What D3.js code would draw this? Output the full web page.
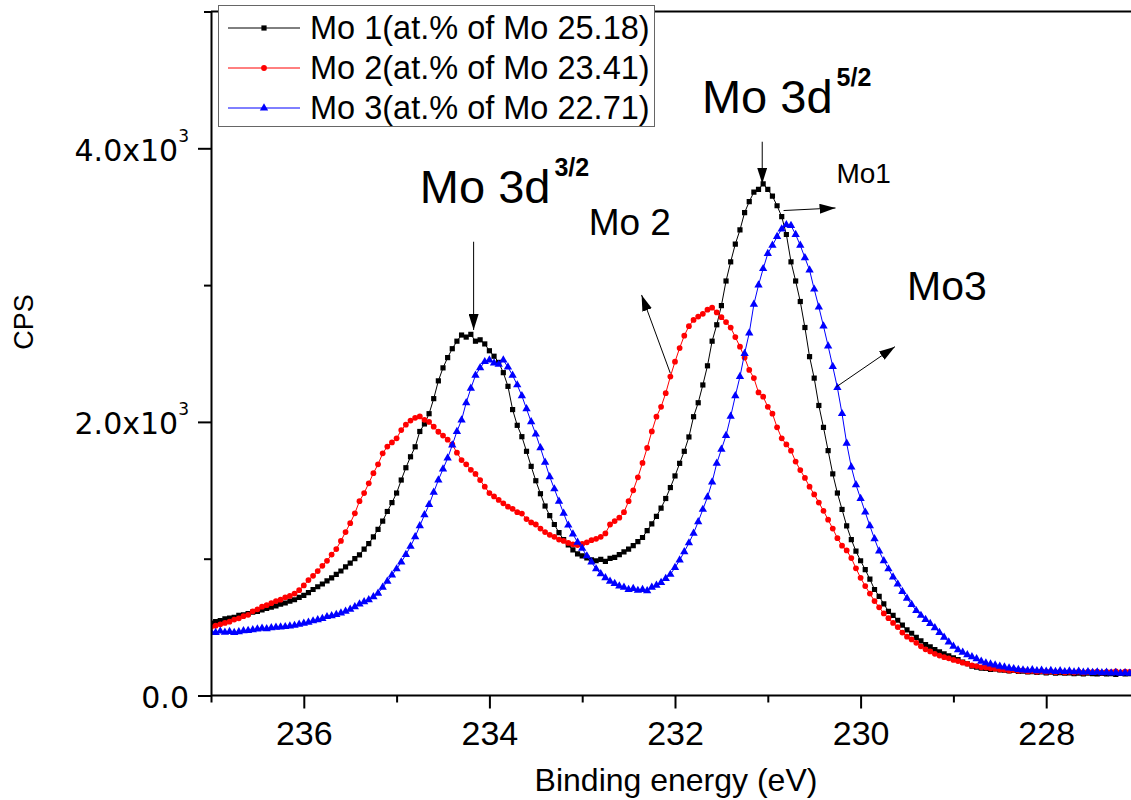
<!DOCTYPE html>
<html>
<head>
<meta charset="utf-8">
<script src="https://cdn.jsdelivr.net/npm/d3@7"></script>
<style>
  body { margin: 0; background: #fff; }
  svg { display: block; font-family: "Liberation Sans", Arial, sans-serif; }
</style>
</head>
<body>
<div id="chart"></div>
<script>
// binding energy grid: 237.00 eV down to 227.10 eV, 0.05 eV per channel
var energyStart = 237.0, energyStep = 0.05;

// CPS, 10 channels (0.5 eV) per row
var mo1 = [
  530,540,548,560,566,572,585,590,598,610,
  615,625,636,645,655,668,676,690,700,718,
  732,752,775,795,815,838,860,885,910,940,
  968,1000,1028,1070,1110,1160,1215,1275,1345,1410,
  1480,1575,1665,1745,1818,1930,1985,2060,2170,2300,
  2395,2470,2535,2590,2635,2620,2640,2590,2600,2570,
  2520,2480,2435,2360,2260,2090,1975,1892,1785,1675,
  1570,1475,1385,1315,1250,1190,1140,1100,1065,1035,
  1020,1005,992,985,995,980,1003,1010,1030,1050,
  1070,1095,1125,1155,1205,1255,1310,1370,1440,1520,
  1605,1697,1785,1890,2038,2140,2270,2410,2590,2710,
  2850,3030,3170,3300,3403,3530,3610,3680,3700,3740,
  3700,3650,3580,3500,3370,3170,3030,2880,2690,2477,
  2320,2120,1960,1790,1620,1480,1360,1240,1140,1055,
  985,920,850,775,725,670,615,585,550,515,
  479,455,425,400,372,355,335,320,305,290,
  275,262,245,232,215,208,200,198,190,195,
  188,185,180,184,176,178,172,175,168,172,
  166,170,164,167,163,166,160,164,158,163,
  160,157,162,158,160,155,161,158,160
];
var mo2 = [
  500,510,520,530,540,555,564,580,590,615,
  630,649,660,675,690,700,718,728,745,770,
  805,844,875,910,948,985,1030,1070,1130,1195,
  1260,1332,1420,1480,1551,1625,1690,1770,1820,1850,
  1880,1940,1980,2010,2030,2040,2015,2000,1965,1928,
  1900,1870,1835,1775,1721,1690,1650,1620,1575,1526,
  1480,1455,1430,1405,1380,1365,1340,1330,1290,1265,
  1250,1220,1195,1175,1160,1140,1130,1115,1105,1100,
  1108,1120,1135,1145,1160,1185,1250,1275,1300,1340,
  1420,1500,1595,1700,1810,1930,2038,2110,2210,2331,
  2440,2540,2630,2700,2745,2770,2790,2820,2835,2800,
  2765,2730,2690,2620,2550,2470,2380,2320,2215,2184,
  2110,2060,1960,1880,1835,1790,1710,1648,1590,1526,
  1470,1410,1350,1285,1220,1150,1095,1060,1005,930,
  860,800,745,690,645,600,565,530,500,460,
  430,410,385,360,338,322,305,292,280,272,
  260,252,240,232,220,215,206,204,199,196,
  190,188,182,186,180,183,176,180,173,178,
  172,176,170,175,169,173,168,174,167,172,
  170,175,168,173,170,176,169,174,172
];
var mo3 = [
  466,460,470,462,468,460,466,472,475,480,
  486,491,488,495,498,500,503,508,512,520,
  528,535,545,553,562,576,583,592,603,615,
  630,648,668,685,700,722,747,790,835,880,
  925,975,1030,1090,1160,1240,1320,1395,1485,1575,
  1655,1735,1830,1930,2014,2140,2245,2340,2395,2440,
  2452,2430,2420,2452,2400,2340,2270,2190,2095,2000,
  1910,1810,1705,1599,1510,1420,1332,1245,1180,1120,
  1075,1020,975,925,890,860,835,818,800,790,
  775,782,768,775,765,790,805,825,855,885,
  935,990,1050,1115,1186,1270,1360,1450,1560,1697,
  1800,1900,2040,2190,2331,2500,2650,2860,3000,3120,
  3230,3290,3354,3410,3440,3435,3370,3290,3200,3110,
  2970,2840,2700,2555,2405,2250,2060,1843,1670,1540,
  1440,1340,1240,1145,1055,985,925,865,815,760,
  710,665,620,585,555,525,495,460,425,390,
  360,333,315,298,282,268,250,238,230,222,
  214,208,200,196,190,186,183,188,180,184,
  177,182,175,180,174,178,172,176,170,174,
  168,172,166,170,164,168,162,166,162
];

var seriesNames = ["Mo 1(at.% of Mo 25.18)", "Mo 2(at.% of Mo 23.41)", "Mo 3(at.% of Mo 22.71)"];
var seriesColors = ["#000000", "#ff0000", "#0000ff"];

var xTicks = [236, 234, 232, 230, 228];
var xMinorTicks = [237, 235, 233, 231, 229, 227];
var yTicks = [0, 2000, 4000];
var yMinorTicks = [1000, 3000, 5000];
var yTickMantissa = ["0.0", "2.0x10", "4.0x10"];
var yTickExponent = ["", "3", "3"];

// annotations in data units (eV, CPS)
var labelTexts = ["Mo 3d", "Mo 3d", "Mo 2", "Mo1", "Mo3"];
var labelSups  = ["3/2", "5/2", "", "", ""];
var labelE     = [234.75, 231.71, 232.93, 230.26, 229.50];
var labelCps   = [3600, 4255, 3366, 3744, 2891];
var labelSize  = [47, 47, 37, 28, 41];
var arrowFrom  = [[234.17, 3317], [231.06, 4048], [230.83, 3545], [232.05, 2355], [230.26, 2257]];
var arrowTo    = [[234.17, 2672], [231.06, 3740], [230.27, 3564], [232.36, 2928], [229.63, 2550]];

var W = 1131, H = 800;
var FONT = "Liberation Sans, Arial, sans-serif";

var x = d3.scaleLinear().domain([237, 227]).range([211, 1139]);
var y = d3.scaleLinear().domain([0, 5000]).range([695.5, 11.5]);

var svg = d3.select("#chart").append("svg")
    .attr("width", W)
    .attr("height", H);

svg.append("rect").attr("width", W).attr("height", H).attr("fill", "#fff");

svg.append("defs").append("clipPath").attr("id", "plotclip")
  .append("rect")
    .attr("x", x(237)).attr("y", y(5000))
    .attr("width", W - x(237)).attr("height", y(0) - y(5000));

var series = [mo1, mo2, mo3].map(function(vals, k) {
    return {
        name: seriesNames[k],
        color: seriesColors[k],
        values: vals.map(function(v, i) {
            return { e: +(energyStart - i * energyStep).toFixed(2), v: v };
        })
    };
});

var symbols = [
    d3.symbol().type(d3.symbolSquare).size(27),
    d3.symbol().type(d3.symbolCircle).size(26),
    d3.symbol().type(d3.symbolTriangle).size(30)
];

var line = d3.line()
    .x(function(d) { return x(d.e); })
    .y(function(d) { return y(d.v); });

var plot = svg.append("g").attr("clip-path", "url(#plotclip)");

series.forEach(function(s, k) {
    plot.append("path")
        .attr("d", line(s.values))
        .attr("fill", "none")
        .attr("stroke", s.color)
        .attr("stroke-width", 1);
    plot.selectAll(".m" + k)
        .data(s.values)
        .enter().append("path")
        .attr("class", "m" + k)
        .attr("d", symbols[k])
        .attr("fill", s.color)
        .attr("transform", function(d) { return "translate(" + x(d.e) + "," + y(d.v) + ")"; });
});

// X axis
var gx = svg.append("g")
    .attr("transform", "translate(0," + y(0) + ")")
    .call(d3.axisBottom(x).tickValues(xTicks).tickSize(13).tickSizeOuter(0)
        .tickFormat(function(d) { return d; }));
gx.select(".domain").attr("stroke-width", 2).attr("d", "M" + x(237) + ",0H" + W);
gx.selectAll(".tick line").attr("stroke-width", 2);
gx.selectAll(".tick text")
    .attr("y", 49.5).attr("dy", 0)
    .attr("font-size", 34)
    .attr("font-family", FONT)
    .attr("fill", "#000");

var gxm = svg.append("g")
    .attr("transform", "translate(0," + y(0) + ")")
    .call(d3.axisBottom(x).tickValues(xMinorTicks).tickSize(7).tickFormat(""));
gxm.select(".domain").remove();
gxm.selectAll(".tick line").attr("stroke-width", 2);

// Y axis
var gy = svg.append("g")
    .attr("transform", "translate(" + x(237) + ",0)")
    .call(d3.axisLeft(y).tickValues(yTicks).tickSize(13).tickSizeOuter(0).tickFormat(""));
gy.select(".domain").attr("stroke-width", 2);
gy.selectAll(".tick line").attr("stroke-width", 2);
gy.selectAll(".tick").each(function(d, i) {
    var t = d3.select(this).append("text")
        .attr("x", -22).attr("y", 12)
        .attr("text-anchor", "end")
        .attr("font-family", "DejaVu Sans, sans-serif")
        .attr("font-size", 30)
        .attr("fill", "#000");
    t.append("tspan").text(yTickMantissa[i]);
    if (yTickExponent[i]) {
        t.append("tspan").attr("dy", -19).attr("font-size", 17).text(yTickExponent[i]);
    }
});

var gym = svg.append("g")
    .attr("transform", "translate(" + x(237) + ",0)")
    .call(d3.axisLeft(y).tickValues(yMinorTicks).tickSize(7).tickFormat(""));
gym.select(".domain").remove();
gym.selectAll(".tick line").attr("stroke-width", 2);

// top frame
svg.append("line")
    .attr("x1", x(237)).attr("x2", W)
    .attr("y1", y(5000)).attr("y2", y(5000))
    .attr("stroke", "#000").attr("stroke-width", 2);

// axis titles
svg.append("text")
    .attr("x", 676).attr("y", 791)
    .attr("text-anchor", "middle")
    .attr("font-size", 32)
    .text("Binding energy (eV)");

svg.append("text")
    .attr("transform", "translate(33,322) rotate(-90)")
    .attr("text-anchor", "middle")
    .attr("font-size", 27)
    .text("CPS");

// annotations
svg.append("defs").append("marker")
    .attr("id", "arrowhead")
    .attr("viewBox", "0 0 16 10")
    .attr("refX", 16).attr("refY", 5)
    .attr("markerWidth", 16).attr("markerHeight", 10)
    .attr("markerUnits", "userSpaceOnUse")
    .attr("orient", "auto")
  .append("path")
    .attr("d", "M0,0L16,5L0,10Z")
    .attr("fill", "#000");

arrowFrom.forEach(function(a, i) {
    svg.append("line")
        .attr("x1", x(a[0])).attr("y1", y(a[1]))
        .attr("x2", x(arrowTo[i][0])).attr("y2", y(arrowTo[i][1]))
        .attr("stroke", "#000").attr("stroke-width", 1)
        .attr("marker-end", "url(#arrowhead)");
});

labelTexts.forEach(function(txt, i) {
    var t = svg.append("text")
        .attr("x", x(labelE[i])).attr("y", y(labelCps[i]))
        .attr("font-size", labelSize[i])
        .attr("fill", "#000");
    t.append("tspan").text(txt);
    if (labelSups[i]) {
        t.append("tspan")
            .attr("dx", 4).attr("dy", -27)
            .attr("font-size", 25).attr("font-weight", "bold")
            .text(labelSups[i]);
    }
});

// legend
var legend = svg.append("g");
legend.append("rect")
    .attr("x", 218.5).attr("y", 5.5)
    .attr("width", 436).attr("height", 121)
    .attr("fill", "#fff")
    .attr("stroke", "#666").attr("stroke-width", 1);

series.forEach(function(s, k) {
    var ly = 28 + k * 40;
    legend.append("line")
        .attr("x1", 228).attr("x2", 300)
        .attr("y1", ly).attr("y2", ly)
        .attr("stroke", s.color).attr("stroke-width", 1);
    legend.append("path")
        .attr("d", symbols[k])
        .attr("fill", s.color)
        .attr("transform", "translate(264," + ly + ")");
    legend.append("text")
        .attr("x", 310).attr("y", ly + 10.5)
        .attr("font-size", 32.5)
        .text(s.name);
});
</script>
</body>
</html>
